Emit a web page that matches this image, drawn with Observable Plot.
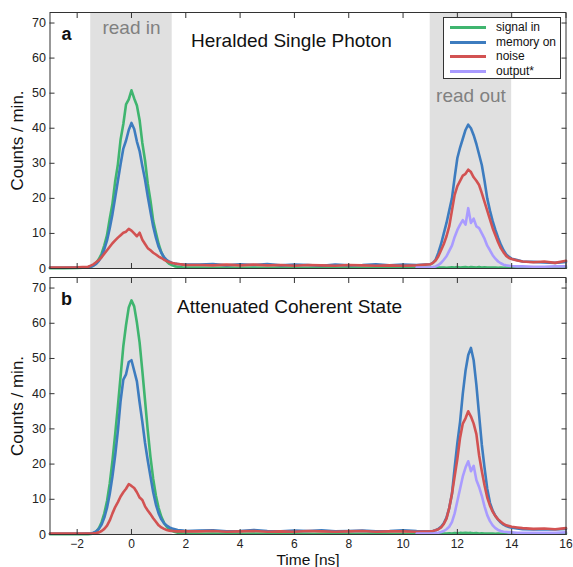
<!DOCTYPE html>
<html><head><meta charset="utf-8">
<script src="https://cdn.jsdelivr.net/npm/d3@7"></script>
<script src="https://cdn.jsdelivr.net/npm/@observablehq/plot@0.6"></script>
<style>
body{margin:0;background:#fff;font-family:"Liberation Sans",Arial,sans-serif;}
#wrap{position:relative;width:573px;height:567px;}
#wrap svg{display:block;overflow:visible;}
.legend{position:absolute;left:443px;top:17px;width:116px;height:60px;border:1px solid #333;background:#fff;font-size:12px;color:#111;}
.legend .row{position:absolute;left:0;height:14px;width:116px;}
.legend .sw{position:absolute;left:6px;top:6px;width:36px;height:3px;}
.legend .tx{position:absolute;left:52px;top:0;line-height:14px;white-space:nowrap;}
</style>
</head><body>
<div id="wrap"></div>
<script>
const seriesNames = ["signal in", "memory on", "noise", "output*"];
const seriesColors = ["#3fb56f", "#3d7cbf", "#d25252", "#a99bff"];
const xTicks = [-2, 0, 2, 4, 6, 8, 10, 12, 14, 16];
const yTicks = [0, 10, 20, 30, 40, 50, 60, 70];
const regions = [{label: "read in", start: -1.5, end: 1.5}, {label: "read out", start: 11, end: 14}];
const panelLetters = ["a", "b"];
const panelTitles = ["Heralded Single Photon", "Attenuated Coherent State"];

const T = [-3,-2.5,-2,-1.6,
-1.5,-1.4,-1.3,-1.2,-1.1,-1.0,-0.9,-0.8,-0.7,-0.6,
-0.5,-0.4,-0.3,-0.2,-0.1,0,0.1,0.2,0.3,0.4,
0.5,0.6,0.7,0.8,0.9,1.0,1.1,1.2,1.3,1.4,
1.5,1.6,1.7,1.8,1.9,2.0,
2.5,3,3.5,4,4.5,5,5.5,6,6.5,7,7.5,8,8.5,9,9.5,10,10.5,
11,11.1,11.2,11.3,11.4,11.5,11.6,11.7,11.8,11.9,
12,12.1,12.2,12.3,12.4,12.5,12.6,12.7,12.8,12.9,
13,13.1,13.2,13.3,13.4,13.5,13.6,13.7,13.8,13.9,
14,14.2,14.4,14.8,15.2,15.6,16];

// output* times (read-out region only)
const Tout = [10.5,
11,11.1,11.2,11.3,11.4,11.5,11.6,11.7,11.8,11.9,
12,12.1,12.2,12.3,12.4,12.5,12.6,12.7,12.8,12.9,
13,13.1,13.2,13.3,13.4,13.5,13.6,13.7,13.8,13.9,
14,14.2,14.4,14.8,15.2,15.6,16];

// Panel a: Heralded Single Photon
const aSignal = [0.1,0.1,0.15,0.3,
0.5,0.9,1.6,2.7,4.2,6.6,9.5,14.2,18.5,24.8,
29.7,36.8,41.2,46.8,48.2,50.8,48.5,46.5,42.3,35.8,
30.8,24.2,19.3,13.6,10.2,7.0,4.6,3.0,2.0,1.3,
0.9,0.6,0.5,0.4,0.3,0.3,
0.25,0.2,0.3,0.2,0.25,0.2,0.3,0.2,0.2,0.25,0.2,0.3,0.2,0.2,0.25,0.2,0.2,
0.2,0.3,0.2,0.3,0.25,0.3,0.2,0.3,0.35,0.3,
0.4,0.3,0.35,0.4,0.3,0.4,0.35,0.3,0.4,0.3,
0.35,0.3,0.3,0.25,0.3,0.2,0.25,0.2,0.3,0.2,
0.2,0.2,0.25,0.2,0.2,0.2,0.2];
const aMemory = [0.2,0.2,0.3,0.4,
0.5,0.8,1.3,2.2,3.4,5.5,8.0,11.5,15.5,20.2,
25.0,29.8,34.2,36.5,39.5,41.5,39.8,36.2,33.5,29.2,
25.3,20.5,16.2,12.0,8.8,6.2,4.5,3.2,2.4,1.9,
1.6,1.4,1.3,1.2,1.1,1.1,
1.1,1.3,0.9,1.2,1.0,1.3,0.9,1.1,1.0,0.8,1.1,0.9,1.0,1.2,0.9,1.1,1.0,
1.2,1.6,2.5,4.5,7.0,10.0,13.0,16.5,20.0,26.0,
31.5,34.5,37.0,39.5,41.0,40.0,38.0,35.5,32.5,29.5,
25.0,20.0,16.5,13.5,11.0,8.8,6.8,5.2,4.0,3.3,
2.8,2.4,2.0,1.9,1.7,1.6,1.9];
const aNoise = [0.3,0.3,0.35,0.5,
0.8,1.2,1.8,2.4,3.2,4.2,5.2,6.2,7.2,8.0,
8.8,9.5,10.2,10.5,11.3,10.8,10.0,9.2,10.2,8.2,
7.0,5.8,5.2,4.5,4.0,3.4,3.0,2.5,2.1,1.8,
1.6,1.4,1.3,1.2,1.1,1.0,
1.0,0.9,1.1,0.9,1.1,0.9,1.0,0.8,1.0,0.9,0.8,1.0,0.9,0.8,0.9,0.8,0.9,
1.2,1.6,2.3,3.5,5.2,7.0,9.2,12.0,16.5,21.0,
23.5,25.0,26.5,27.0,28.2,27.5,26.0,25.0,23.8,21.5,
19.0,16.5,14.0,11.5,9.5,7.5,5.8,4.6,3.6,3.0,
2.7,2.3,2.0,1.8,2.0,1.6,2.2];
const aOutput = [0.3,
0.3,0.4,0.6,1.0,1.6,2.5,3.5,5.0,6.5,9.0,
11.0,12.5,13.8,12.5,17.2,13.0,14.2,12.0,11.5,10.0,
8.5,6.5,5.2,3.8,2.8,2.0,1.5,1.1,0.9,0.8,
0.7,0.6,0.6,0.5,0.5,0.6,0.6];

// Panel b: Attenuated Coherent State
const bSignal = [0.1,0.1,0.1,0.1,
0.15,0.3,0.8,1.8,3.5,6.0,9.5,14.5,21.0,28.5,
36.5,45.0,53.5,59.5,64.5,66.5,64.8,60.2,54.5,46.5,
38.0,29.5,22.0,15.8,11.0,7.5,5.0,3.3,2.2,1.5,
1.0,0.7,0.5,0.4,0.3,0.3,
0.2,0.25,0.2,0.2,0.3,0.2,0.2,0.25,0.2,0.2,0.3,0.2,0.2,0.25,0.2,0.2,0.2,
0.2,0.25,0.3,0.2,0.3,0.25,0.3,0.35,0.3,0.4,
0.35,0.45,0.4,0.5,0.4,0.45,0.35,0.4,0.3,0.35,
0.3,0.3,0.25,0.3,0.2,0.25,0.2,0.2,0.25,0.2,
0.2,0.2,0.2,0.2,0.2,0.2,0.2];
const bMemory = [0.2,0.2,0.2,0.3,
0.3,0.5,0.9,1.6,2.8,4.8,7.6,11.5,16.5,22.5,
29.5,38.0,44.0,45.5,49.0,49.5,46.5,43.5,37.5,32.0,
26.0,21.0,16.5,12.0,8.5,6.0,4.3,3.2,2.5,2.0,
1.7,1.5,1.3,1.2,1.1,1.0,
1.1,1.2,0.9,1.0,1.3,1.0,0.9,1.1,1.0,1.2,0.9,1.0,1.1,0.9,1.0,1.2,1.0,
0.9,1.0,1.2,1.6,2.2,3.2,4.8,7.5,11.5,19.0,
26.0,32.0,40.0,46.5,51.0,53.0,49.5,42.5,34.0,25.5,
19.0,13.0,9.0,6.8,5.3,4.2,3.4,2.8,2.4,2.1,
1.9,1.7,1.5,1.4,1.5,1.4,1.6];
const bNoise = [0.3,0.3,0.3,0.3,
0.3,0.35,0.45,0.6,1.0,1.6,2.5,4.0,6.0,7.8,
9.2,10.8,12.0,13.0,14.3,13.8,13.2,12.0,10.5,9.8,
8.0,6.8,5.8,4.6,3.6,2.6,2.0,1.6,1.3,1.1,
1.0,0.9,0.9,0.9,0.9,0.9,
0.9,1.0,0.8,0.9,1.0,0.8,0.9,0.8,1.0,0.9,0.8,0.9,1.0,0.8,0.9,0.9,0.8,
0.9,1.0,1.2,1.5,2.0,3.0,4.5,7.5,11.5,16.5,
21.5,27.5,31.5,33.0,35.0,33.5,31.5,28.5,22.5,18.0,
14.0,10.5,8.2,6.5,5.2,4.3,3.6,3.0,2.6,2.4,
2.2,2.0,1.8,1.6,1.7,1.5,1.8];
const bOutput = [0.3,
0.3,0.3,0.4,0.5,0.7,1.0,1.5,2.2,3.5,6.0,
9.5,13.0,16.5,19.0,20.8,18.0,19.5,15.5,13.5,11.0,
8.0,5.5,3.8,2.6,1.8,1.3,1.0,0.8,0.7,0.6,
0.6,0.5,0.5,0.5,0.5,0.5,0.6];

function table(signal, memory, noise, output) {
  const rows = [];
  [[T, signal], [T, memory], [T, noise], [Tout, output]].forEach(([ts, vs], k) => {
    ts.forEach((t, i) => rows.push({t, v: vs[i], series: seriesNames[k]}));
  });
  return rows;
}

const font = "Liberation Sans, Arial, Helvetica, sans-serif";

function panel(idx, data, cfg) {
  const marks = [
    Plot.rect(regions, {x1: "start", x2: "end", fill: "#e0e0e0"}),
    Plot.line(data, {x: "t", y: "v", z: "series", stroke: "series", strokeWidth: 2.6, curve: "linear", strokeLinejoin: "round"}),
    Plot.frame({stroke: "#333", strokeWidth: 1}),
    Plot.axisX({anchor: "bottom", ticks: xTicks, tickSize: -5, fill: "none", stroke: "#333", label: null}),
    Plot.axisX({anchor: "top", ticks: xTicks, tickSize: -5, fill: "none", stroke: "#333", label: null}),
    Plot.axisY({anchor: "left", ticks: yTicks, tickSize: -5, fill: "none", stroke: "#333", label: null}),
    Plot.axisY({anchor: "right", ticks: yTicks, tickSize: -5, fill: "none", stroke: "#333", label: null}),
    Plot.axisY({anchor: "left", ticks: yTicks, tickSize: 0, tickPadding: 4, stroke: "none", fill: "#222", fontSize: 12.5, label: null}),
    Plot.text([panelLetters[idx]], {frameAnchor: "top-left", textAnchor: "middle", lineAnchor: "middle", dx: 16.5, dy: cfg.letterDy, fontWeight: "bold", fontSize: 18, fill: "#111"}),
    Plot.text([panelTitles[idx]], {frameAnchor: "top-left", textAnchor: "start", lineAnchor: "middle", dx: cfg.titleDx, dy: cfg.titleDy, fontSize: 19, fill: "#111"}),
    Plot.text(["Counts / min."], {frameAnchor: "left", rotate: -90, textAnchor: "middle", lineAnchor: "middle", dx: -32, fontSize: 17, fill: "#111"})
  ];
  if (cfg.regionLabels) {
    marks.push(Plot.text([regions[0]], {x: d => (d.start + d.end) / 2, text: "label", frameAnchor: "top", lineAnchor: "middle", dy: 15, fontSize: 19, fill: "#808080"}));
    marks.push(Plot.text([regions[1]], {x: d => (d.start + d.end) / 2, text: "label", frameAnchor: "top", lineAnchor: "middle", dy: 83, fontSize: 19, fill: "#808080"}));
  }
  if (cfg.xLabels) {
    marks.push(Plot.axisX({anchor: "bottom", ticks: xTicks, tickSize: 0, tickPadding: 5, stroke: "none", fill: "#222", fontSize: 12, label: null}));
    marks.push(Plot.text(["Time [ns]"], {frameAnchor: "bottom", lineAnchor: "middle", dy: 25.5, fontSize: 15.5, fill: "#111"}));
  }
  return Plot.plot({
    width: 573,
    height: cfg.height,
    marginLeft: 49.5,
    marginRight: 7.5,
    marginTop: cfg.marginTop,
    marginBottom: cfg.marginBottom,
    style: {fontFamily: font, fontSize: "12.5px", color: "#222", overflow: "visible"},
    x: {domain: [-3, 16]},
    y: {domain: [0, 73]},
    color: {domain: seriesNames, range: seriesColors},
    marks
  });
}

const wrap = document.getElementById("wrap");
wrap.appendChild(panel(0, table(aSignal, aMemory, aNoise, aOutput),
  {height: 270, marginTop: 12, marginBottom: 2, letterDy: 22, titleDx: 141, titleDy: 28, regionLabels: true, xLabels: false}));
wrap.appendChild(panel(1, table(bSignal, bMemory, bNoise, bOutput),
  {height: 297, marginTop: 7, marginBottom: 33, letterDy: 22, titleDx: 127, titleDy: 29, regionLabels: false, xLabels: true}));

const legend = document.createElement("div");
legend.className = "legend";
seriesNames.forEach((name, i) => {
  const row = document.createElement("div");
  row.className = "row";
  row.style.top = (2 + i * 14.7) + "px";
  const sw = document.createElement("div");
  sw.className = "sw";
  sw.style.background = seriesColors[i];
  const tx = document.createElement("div");
  tx.className = "tx";
  tx.textContent = name;
  row.appendChild(sw); row.appendChild(tx);
  legend.appendChild(row);
});
wrap.appendChild(legend);
</script>
</body></html>
